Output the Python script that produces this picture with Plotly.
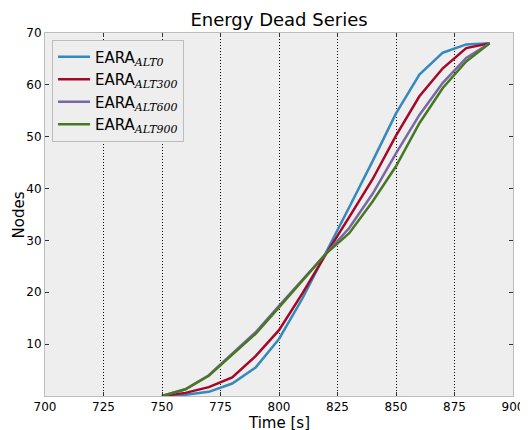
import plotly.graph_objects as go

time_s = [750, 760, 770, 780, 790, 800, 810, 820, 830, 840, 850, 860, 870, 880, 890]
alt0 = [0, 0.25, 0.8, 2.4, 5.5, 11.0, 18.8, 27.5, 36.4, 45.3, 54.5, 62.0, 66.2, 67.8, 68]
alt300 = [0, 0.6, 1.7, 3.6, 7.7, 12.7, 19.8, 27.3, 34.5, 41.8, 50.2, 57.8, 63.2, 67.1, 68]
alt600 = [0, 1.3, 4.0, 8.2, 12.3, 17.4, 22.4, 27.4, 32.4, 39.0, 46.8, 54.2, 60.4, 65.2, 68]
alt900 = [0, 1.3, 3.9, 7.9, 12.0, 17.1, 22.2, 27.4, 31.4, 37.5, 44.3, 52.6, 59.4, 64.5, 68]

series_names = ["ALT0", "ALT300", "ALT600", "ALT900"]
series_values = [alt0, alt300, alt600, alt900]
colors = ["#348ABD", "#A60628", "#7A68A6", "#467821"]

x_ticks = [700, 725, 750, 775, 800, 825, 850, 875, 900]
y_ticks = [10, 20, 30, 40, 50, 60, 70]

fig = go.Figure()
for name, vals, c in zip(series_names, series_values, colors):
    fig.add_trace(go.Scatter(
        x=time_s, y=vals, mode="lines",
        line=dict(color=c, width=2.5),
        name="EARA<sub><i><span style='font-family:DejaVu Serif;font-size:11px'>" + name + "</span></i></sub>",
    ))

axis_common = dict(
    showline=True, linecolor="#bcbcbc", linewidth=1, mirror="ticks",
    ticks="inside", ticklen=4, tickcolor="#333333", tickwidth=1,
    zeroline=False, automargin=False,
    tickfont=dict(family="DejaVu Sans", size=12, color="black"),
)

fig.update_xaxes(range=[700, 900], tickvals=x_ticks, showgrid=True,
                 gridcolor="black", gridwidth=1, griddash="1px,2px", **axis_common)
fig.update_yaxes(range=[0, 70], tickvals=y_ticks, showgrid=False, **axis_common)

fig.update_layout(
    width=520, height=422,
    margin=dict(l=37, r=15, t=25, b=34, autoexpand=False),
    paper_bgcolor="white", plot_bgcolor="#eeeeee",
    font=dict(family="DejaVu Sans", color="black"),
    title=dict(text="Energy Dead Series", x=0.5, xref="paper", y=0.9716, yref="container",
               yanchor="middle", xanchor="center", font=dict(size=18)),
    showlegend=True,
    legend=dict(x=0.015, y=0.982, xanchor="left", yanchor="top",
                bgcolor="#eeeeee", bordercolor="#bcbcbc", borderwidth=1,
                font=dict(size=15), tracegroupgap=0, itemwidth=32),
    annotations=[
        dict(text="Time [s]", x=0.5, xref="paper", y=-0.045, yref="paper",
             xanchor="center", yanchor="top", showarrow=False, font=dict(size=15)),
        dict(text="Nodes", x=-0.0556, xref="paper", y=0.5, yref="paper", textangle=-90,
             xanchor="center", yanchor="middle", showarrow=False, font=dict(size=15)),
    ],
)

fig.write_html("out.html")
